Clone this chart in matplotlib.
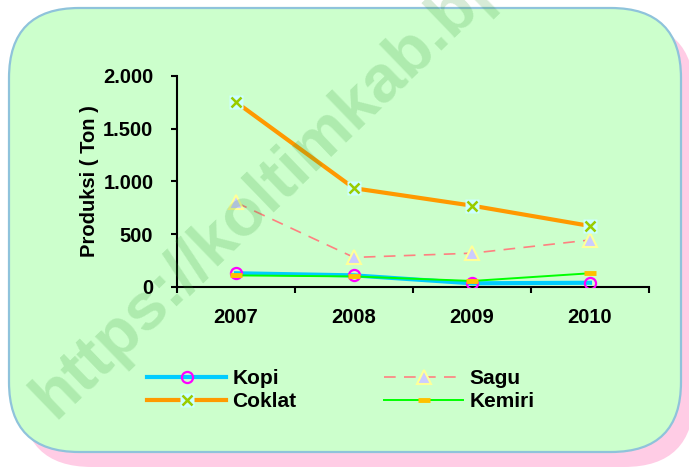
import numpy as np
import matplotlib
matplotlib.use("Agg")
import matplotlib.pyplot as plt
from matplotlib.patches import FancyBboxPatch
from matplotlib.lines import Line2D

plt.rcParams['font.family'] = ['Liberation Sans', 'DejaVu Sans']
plt.rcParams['font.weight'] = 'bold'

# data
years = ['2007', '2008', '2009', '2010']
kopi = [130, 110, 35, 40]
sagu = [800, 280, 320, 445]
coklat = [1750, 935, 770, 578]
kemiri = [110, 100, 57, 130]
yticks = [0, 500, 1000, 1500, 2000]
ytick_labels = ['0', '500', '1.000', '1.500', '2.000']

W, H = 689, 471
fig = plt.figure(figsize=(W / 100, H / 100), dpi=100)
fig.patch.set_facecolor('white')

# background: pink shadow + rounded green panel, in pixel coords
bg = fig.add_axes([0, 0, 1, 1], zorder=-1)
bg.set_xlim(0, W)
bg.set_ylim(H, 0)
bg.axis('off')
shadow = FancyBboxPatch((22, 23), 672, 444, boxstyle="round,pad=0,rounding_size=70",
                        fc='#FFCCE5', ec='none')
panel = FancyBboxPatch((9, 8), 672, 444, boxstyle="round,pad=0,rounding_size=70",
                       fc='#CCFFCC', ec='#8FC3DB', lw=1.6)
bg.add_patch(shadow)
bg.add_patch(panel)

# main chart
ax = fig.add_axes([177 / W, 1 - 287 / H, 472 / W, (287 - 75.7) / H], zorder=1)
ax.set_facecolor('none')
x = np.arange(len(years))

ax.plot(x, kopi, color='#00CCFF', lw=3, marker='o', ms=8, mfc='none',
        mec='#FF00FF', mew=1.6, zorder=3)
ax.plot(x, sagu, color='#FF8080', lw=1.2, dashes=(7, 5), marker='^', ms=10,
        mfc='#CCCCFF', mec='#FFFF99', mew=1.5, zorder=3)
ax.plot(x, coklat, color='#FF9900', lw=3, zorder=3)
ax.plot(x, coklat, ls='none', marker='s', ms=9.5, mfc='#CCFFFF', mec='none', zorder=4)
ax.plot(x, coklat, ls='none', marker='x', ms=7, mec='#99CC00', mew=1.8, zorder=5)
ax.plot(x, kemiri, color='#00FF00', lw=1.4, marker='_', ms=9, mec='#FFC000',
        mew=3.5, zorder=6)

ax.set_xlim(-0.5, 3.5)
ax.set_ylim(0, 2000)
ax.set_yticks(yticks)
ax.set_yticklabels(ytick_labels)
ax.set_xticks(np.arange(-0.5, 4, 1))
ax.set_xticklabels([])
ax.set_xticks(x, minor=True)
ax.set_xticklabels(years, minor=True)
ax.tick_params(axis='y', direction='out', length=4.5, width=1.5, pad=12.5, labelsize=14.5)
ax.tick_params(axis='x', which='major', direction='out', length=4.5, width=1.5)
ax.tick_params(axis='x', which='minor', length=0, pad=15, labelsize=14.5)
for s in ['top', 'right']:
    ax.spines[s].set_visible(False)
for s in ['left', 'bottom']:
    ax.spines[s].set_linewidth(1.5)

ax.set_ylabel('Produksi ( Ton )', fontsize=14.5, fontweight='bold')
ax.yaxis.set_label_coords(-0.165, 0.5)

# legend
h_kopi = Line2D([], [], color='#00CCFF', lw=3, marker='o', ms=8, mfc='none',
                mec='#FF00FF', mew=1.6)
h_cok_line = Line2D([], [], color='#FF9900', lw=3, marker='s', ms=9.5,
                    mfc='#CCFFFF', mec='none')
h_cok_x = Line2D([], [], ls='none', marker='x', ms=7, mec='#99CC00', mew=1.8)
h_sagu = Line2D([], [], color='#FF8080', lw=1.2, dashes=(7, 5), marker='^', ms=10,
                mfc='#CCCCFF', mec='#FFFF99', mew=1.5)
h_kem = Line2D([], [], color='#00FF00', lw=1.4, marker='_', ms=9, mec='#FFC000', mew=3.5)
ax.legend([h_kopi, (h_cok_line, h_cok_x), h_sagu, h_kem],
          ['Kopi', 'Coklat', 'Sagu', 'Kemiri'],
          ncol=2, loc='upper left', bbox_to_anchor=(147 / W, 1 - 369 / H),
          bbox_transform=fig.transFigure, frameon=False, borderaxespad=0,
          borderpad=0, fontsize=15, handlelength=3.8, handletextpad=0.3,
          columnspacing=4.2, labelspacing=0.2)

# watermark, clipped to the panel
wm = fig.text(55 / W, 1 - 420 / H, 'https://koltimkab.bps.go.id', rotation=44,
              rotation_mode='anchor', ha='left', va='baseline', fontsize=48,
              fontweight='bold', color='#339933', alpha=0.2, zorder=10)
wm.set_clip_path(panel)

fig.savefig('out.png', dpi=100)
